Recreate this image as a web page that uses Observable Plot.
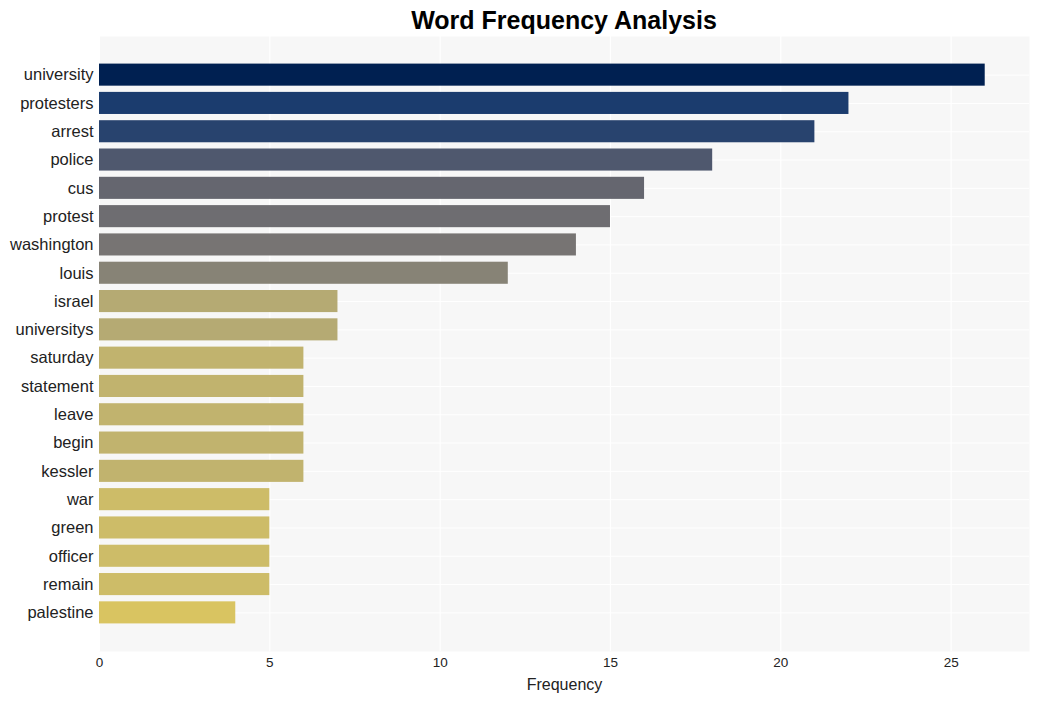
<!DOCTYPE html>
<html>
<head>
<meta charset="utf-8">
<script src="https://cdn.jsdelivr.net/npm/d3@7"></script>
<script src="https://cdn.jsdelivr.net/npm/@observablehq/plot@0.6"></script>
<style>
  html, body { margin: 0; padding: 0; background: #ffffff; }
  #wrap { width: 1038px; height: 701px; font-family: "Liberation Sans", Arial, sans-serif; }
  #title { box-sizing: border-box; width: 1038px; height: 36px; padding: 4px 9px 0 99px; line-height: 32px;
           text-align: center; font-size: 25px; font-weight: bold; color: #000; }
  svg { display: block; }
</style>
</head>
<body>
<div id="wrap">
  <div id="title">Word Frequency Analysis</div>
  <div id="chart"></div>
</div>
<script>
const words = ["university", "protesters", "arrest", "police", "cus", "protest", "washington", "louis",
  "israel", "universitys", "saturday", "statement", "leave", "begin", "kessler", "war", "green",
  "officer", "remain", "palestine"];
const counts = [26, 22, 21, 18, 16, 15, 14, 12, 7, 7, 6, 6, 6, 6, 6, 5, 5, 5, 5, 4];
const xTicks = [0, 5, 10, 15, 20, 25];

const data = words.map((w, i) => ({word: w, count: counts[i]}));

const chart = Plot.plot({
  width: 1038,
  height: 665,
  marginTop: 0,
  marginLeft: 99,
  marginRight: 9,
  marginBottom: 50,
  style: {fontFamily: "'Liberation Sans', Arial, sans-serif", background: "#ffffff"},
  x: {domain: [0, 27.3], ticks: xTicks, label: null},
  y: {domain: words, paddingInner: 0.22, paddingOuter: 0.975, round: false, label: null},
  color: {type: "linear", domain: [0, 26], reverse: true, interpolate: d3.interpolateCividis},
  marks: [
    Plot.frame({fill: "#f7f7f7", stroke: null}),
    Plot.gridX({ticks: xTicks, stroke: "#ffffff", strokeOpacity: 1, strokeWidth: 1.2}),
    Plot.gridY({stroke: "#ffffff", strokeOpacity: 1, strokeWidth: 1}),
    Plot.barX(data, {x: "count", y: "word", fill: d => d.count}),
    Plot.axisY({tickSize: 0, tickPadding: 6, fontSize: 16.5, fill: "#222", label: null}),
    Plot.axisX({ticks: xTicks, tickSize: 0, tickPadding: 6, fontSize: 13.5, fill: "#222", label: null}),
    Plot.text(["Frequency"], {frameAnchor: "bottom", dy: 38, fontSize: 16, fill: "#222"})
  ]
});
document.getElementById("chart").appendChild(chart);
</script>
</body>
</html>
